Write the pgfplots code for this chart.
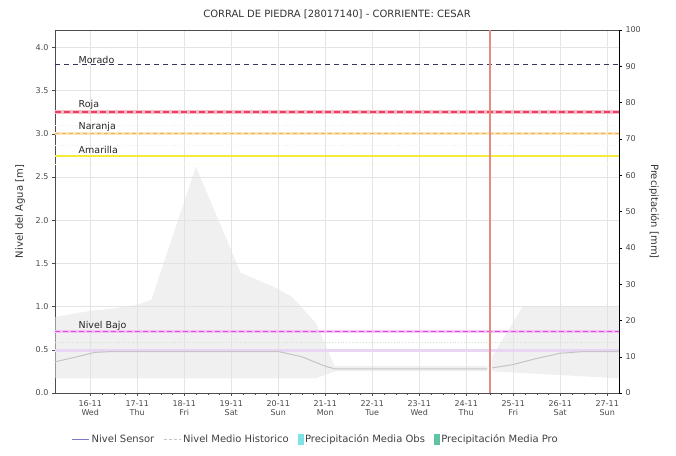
\documentclass[border=0pt]{standalone}
\usepackage{pgfplots}
\pgfplotsset{compat=1.18}
\usepackage{fontspec}
\setmainfont{DejaVu Sans}
\definecolor{tickc}{HTML}{4A4A4A}
\definecolor{gridc}{HTML}{E4E4E4}
\definecolor{bandc}{HTML}{E2E2E2}
\definecolor{meanc}{HTML}{C4C4C4}
\definecolor{lavc}{HTML}{E8D6F4}
\definecolor{greenc}{HTML}{CDE8C8}
\definecolor{moradoc}{HTML}{34345E}
\definecolor{rojac}{HTML}{EE3F62}
\definecolor{naranjac}{HTML}{F2B54A}
\definecolor{amarillac}{HTML}{F6EA3A}
\definecolor{bajoc}{HTML}{DE4EDE}
\definecolor{nowc}{HTML}{E58C80}
\definecolor{sensorc}{HTML}{7B7BD0}
\definecolor{obsc}{HTML}{7FE3E6}
\definecolor{proc}{HTML}{62C2A6}
\definecolor{faintc}{HTML}{E2F3F6}
\begin{document}
\begin{tikzpicture}
\useasboundingbox (-55pt,-62pt) rectangle (621pt,393pt);
\begin{axis}[
  scale only axis, width=564pt, height=363pt,
  at={(0,0)}, anchor=south west,
  xmin=15.25, xmax=27.25, ymin=0, ymax=4.2,
  xtick={16,17,18,19,20,21,22,23,24,25,26,27},
  xticklabels={16-11\\Wed,17-11\\Thu,18-11\\Fri,19-11\\Sat,20-11\\Sun,21-11\\Mon,22-11\\Tue,23-11\\Wed,24-11\\Thu,25-11\\Fri,26-11\\Sat,27-11\\Sun},
  xticklabel style={align=center, font=\fontsize{8}{9.5}\selectfont, text=tickc, yshift=-1pt},
  minor x tick num=3,
  ytick={0,0.5,1.0,1.5,2.0,2.5,3.0,3.5,4.0},
  /pgf/number format/assume math mode=true,
  yticklabel style={/pgf/number format/fixed, /pgf/number format/fixed zerofill, /pgf/number format/precision=1, font=\fontsize{8}{9}\selectfont, text=tickc},
  tick align=outside, xtick pos=left, ytick pos=left,
  major tick length=3pt, minor tick length=1.5pt,
  tick style={draw=black!70},
  xmajorgrids, ymajorgrids,
  major grid style={draw=gridc, line width=0.5pt},
  axis line style={draw=black!70},
  title={CORRAL DE PIEDRA [28017140] - CORRIENTE: CESAR},
  title style={at={(axis description cs:0.5,1.027)}, anchor=center, font=\fontsize{10}{12}\selectfont, text=black!80},
  ylabel={Nivel del Agua [m]},
  ylabel style={at={(axis description cs:-0.062,0.5)}, anchor=center, rotate=0, font=\fontsize{10}{12}\selectfont, text=black!80},
  legend columns=4,
  legend style={at={(axis description cs:0.462,-0.103)}, anchor=north, draw=none, fill=none,
    font=\fontsize{10}{12}\selectfont, text=black!75,
    /tikz/every even column/.append style={column sep=7pt}},
  legend cell align=left,
  clip=true,
]
% historic band
\addplot[fill=bandc, fill opacity=0.5, draw=none, forget plot] coordinates {
 (15.25,0.88) (16.0,0.95) (16.5,0.98) (17.0,1.02) (17.3,1.08) (18.25,2.62)
 (19.2,1.39) (19.9,1.23) (20.3,1.11) (20.8,0.81) (21.2,0.31) (24.45,0.31)
 (24.45,0.25) (21.2,0.25) (20.8,0.17) (15.25,0.17)} -- cycle;
\addplot[fill=bandc, fill opacity=0.5, draw=none, forget plot] coordinates {
 (24.55,0.42) (25.2,1.0) (27.25,1.0) (27.25,0.17) (24.55,0.25)} -- cycle;
% faint reference lines
\addplot[faintc, line width=0.8pt, dotted, forget plot] coordinates {(15.25,3.1) (27.25,3.1)};
\addplot[faintc, line width=0.8pt, dotted, forget plot] coordinates {(15.25,2.86) (27.25,2.86)};
\addplot[amarillac!25, line width=0.8pt, dotted, forget plot] coordinates {(15.25,2.64) (27.25,2.64)};
\addplot[greenc, line width=0.8pt, dotted, forget plot] coordinates {(15.25,0.59) (27.25,0.59)};
\addplot[lavc, line width=2.5pt, forget plot] coordinates {(15.25,0.49) (27.25,0.49)};
% historic mean
\addplot[meanc, line width=1pt, forget plot] coordinates {
 (15.25,0.36) (15.8,0.43) (16.1,0.47) (16.5,0.48) (20.0,0.48) (20.5,0.42)
 (21.0,0.31) (21.2,0.28) (24.45,0.28)};
\addplot[meanc, line width=1pt, forget plot] coordinates {
 (24.55,0.29) (25.0,0.33) (25.5,0.40) (26.0,0.46) (26.5,0.48) (27.25,0.48)};
% thresholds
\addplot[moradoc, line width=1pt, dash pattern=on 5pt off 4pt, forget plot] coordinates {(15.25,3.8) (27.25,3.8)};
\addplot[rojac!35, line width=3.5pt, forget plot] coordinates {(15.25,3.25) (27.25,3.25)};
\addplot[rojac, line width=2pt, dash pattern=on 6pt off 3pt, forget plot] coordinates {(15.25,3.25) (27.25,3.25)};
\addplot[naranjac!35, line width=2.5pt, forget plot] coordinates {(15.25,3.0) (27.25,3.0)};
\addplot[naranjac, line width=1.3pt, dash pattern=on 4pt off 3pt, forget plot] coordinates {(15.25,3.0) (27.25,3.0)};
\addplot[amarillac, line width=2.5pt, forget plot] coordinates {(15.25,2.74) (27.25,2.74)};
\addplot[bajoc!35, line width=3pt, forget plot] coordinates {(15.25,0.71) (27.25,0.71)};
\addplot[bajoc, line width=1.3pt, dash pattern=on 5pt off 3pt, forget plot] coordinates {(15.25,0.71) (27.25,0.71)};
% now line
\addplot[nowc, line width=1.6pt, forget plot] coordinates {(24.5,0) (24.5,4.2)};
% labels
\node[anchor=south west, inner sep=0.5pt, font=\fontsize{9.5}{10}\selectfont, text=black!85] at (axis cs:15.74,3.8) {Morado};
\node[anchor=south west, inner sep=0.5pt, font=\fontsize{9.5}{10}\selectfont, text=black!85] at (axis cs:15.74,3.27) {Roja};
\node[anchor=south west, inner sep=0.5pt, font=\fontsize{9.5}{10}\selectfont, text=black!85] at (axis cs:15.74,3.02) {Naranja};
\node[anchor=south west, inner sep=0.5pt, font=\fontsize{9.5}{10}\selectfont, text=black!85] at (axis cs:15.74,2.76) {Amarilla};
\node[anchor=south west, inner sep=0.5pt, font=\fontsize{9.5}{10}\selectfont, text=black!85] at (axis cs:15.74,0.72) {Nivel Bajo};
% legend
\addlegendimage{legend image code/.code={\draw[draw=sensorc, line width=1.2pt] (0pt,0pt) -- (0.6cm,0pt);}}
\addlegendentry{Nivel Sensor}
\addlegendimage{legend image code/.code={\draw[draw=meanc, line width=0.8pt, dash pattern=on 3pt off 2pt] (0pt,0pt) -- (0.6cm,0pt);}}
\addlegendentry{Nivel Medio Historico}
\addlegendimage{legend image code/.code={\fill[obsc] (0pt,-4.5pt) rectangle (5pt,5pt);}}
\addlegendentry{Precipitación Media Obs}
\addlegendimage{legend image code/.code={\fill[proc] (0pt,-4.5pt) rectangle (5pt,5pt);}}
\addlegendentry{Precipitación Media Pro}
\end{axis}
\begin{axis}[
  scale only axis, width=564pt, height=363pt,
  at={(0,0)}, anchor=south west,
  xmin=15.25, xmax=27.25, ymin=0, ymax=100,
  axis x line=none, axis y line*=right,
  ytick={0,10,20,30,40,50,60,70,80,90,100},
  /pgf/number format/assume math mode=true,
  yticklabel style={font=\fontsize{8}{9}\selectfont, text=tickc},
  tick align=outside, major tick length=3pt,
  tick style={draw=black},
  axis line style={draw=black},
  ylabel={Precipitación [mm]},
  ylabel style={at={(axis description cs:1.062,0.5)}, anchor=center, rotate=180, font=\fontsize{10}{12}\selectfont, text=black!80},
]
\addplot[draw=none, forget plot] coordinates {(16,0) (27,0)};
\end{axis}
\end{tikzpicture}
\end{document}
